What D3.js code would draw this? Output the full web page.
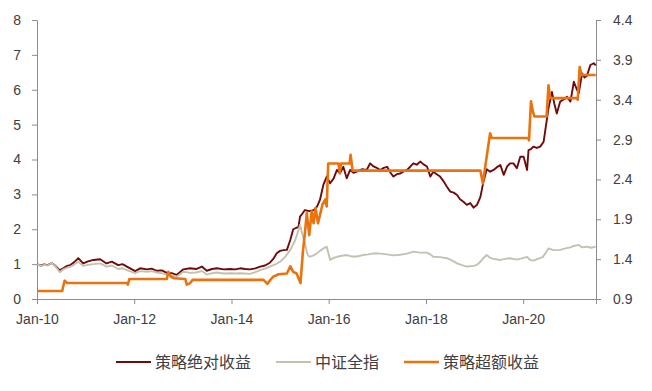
<!DOCTYPE html>
<html>
<head>
<meta charset="utf-8">
<script src="https://cdn.jsdelivr.net/npm/d3@7"></script>
<style>
  body { margin: 0; background: #fff; }
  svg text { font-family: "Liberation Sans", Arial, sans-serif; }
</style>
</head>
<body>
<div id="chart"></div>
<script>
// series names (legend order)
var seriesNames = ["策略绝对收益", "中证全指", "策略超额收益"];

// 策略绝对收益 (left axis), time in decimal years
var absT = [2010.00, 2010.08, 2010.15, 2010.22, 2010.30, 2010.37, 2010.47, 2010.54, 2010.62, 2010.68, 2010.76, 2010.85, 2010.95,
  2011.05, 2011.16, 2011.30, 2011.43, 2011.54, 2011.67, 2011.76, 2011.85, 2012.02, 2012.12, 2012.26, 2012.36, 2012.46, 2012.57,
  2012.67, 2012.77, 2012.87, 2013.01, 2013.15, 2013.27, 2013.39, 2013.49, 2013.60, 2013.70, 2013.84, 2013.97, 2014.08, 2014.18,
  2014.28, 2014.38, 2014.49, 2014.59, 2014.69, 2014.79, 2014.86, 2014.93, 2015.00, 2015.07, 2015.14, 2015.21, 2015.27, 2015.32,
  2015.38, 2015.41, 2015.46, 2015.51, 2015.60, 2015.69, 2015.76, 2015.82, 2015.89, 2015.96, 2016.03, 2016.10, 2016.17, 2016.23,
  2016.30, 2016.37, 2016.44, 2016.51, 2016.58, 2016.68, 2016.78, 2016.85, 2016.92, 2017.00, 2017.06, 2017.13, 2017.20, 2017.27,
  2017.33, 2017.40, 2017.47, 2017.54, 2017.61, 2017.68, 2017.74, 2017.81, 2017.88, 2017.95, 2018.02, 2018.09, 2018.15, 2018.22,
  2018.29, 2018.36, 2018.43, 2018.50, 2018.57, 2018.64, 2018.70, 2018.77, 2018.84, 2018.91, 2018.98, 2019.05, 2019.12, 2019.18,
  2019.25, 2019.32, 2019.39, 2019.46, 2019.53, 2019.60, 2019.67, 2019.73, 2019.80, 2019.87, 2019.94, 2020.01, 2020.08, 2020.11,
  2020.16, 2020.21, 2020.28, 2020.35, 2020.42, 2020.45, 2020.52, 2020.59, 2020.64, 2020.69, 2020.76, 2020.83, 2020.90, 2020.97,
  2021.04, 2021.09, 2021.14, 2021.21, 2021.26, 2021.31, 2021.38, 2021.45, 2021.49];
var absV = [1.00, 0.96, 0.99, 0.97, 1.03, 0.96, 0.82, 0.88, 0.95, 0.97, 1.05, 1.17, 1.02,
  1.08, 1.12, 1.14, 1.02, 1.07, 0.97, 1.00, 0.93, 0.80, 0.88, 0.85, 0.87, 0.81, 0.82,
  0.75, 0.74, 0.69, 0.85, 0.88, 0.86, 0.93, 0.81, 0.86, 0.88, 0.85, 0.86, 0.85, 0.88,
  0.86, 0.85, 0.88, 0.93, 0.96, 1.04, 1.15, 1.31, 1.38, 1.40, 1.41, 1.69, 2.00, 2.03,
  2.07, 2.36, 2.45, 2.55, 2.52, 2.55, 2.65, 2.84, 3.27, 3.51, 3.32, 3.45, 3.70, 3.60,
  3.79, 3.46, 3.70, 3.62, 3.65, 3.72, 3.70, 3.89, 3.80, 3.75, 3.70, 3.76, 3.79, 3.62,
  3.51, 3.58, 3.60, 3.66, 3.70, 3.80, 3.89, 3.85, 3.94, 3.86, 3.80, 3.51, 3.65, 3.58,
  3.51, 3.38, 3.22, 3.08, 3.05, 2.98, 2.86, 2.79, 2.70, 2.75, 2.62, 2.70, 2.93, 3.35,
  3.72, 3.65, 3.70, 3.78, 3.84, 3.56, 3.80, 3.89, 3.89, 3.75, 4.08, 4.08, 3.70, 4.27,
  4.30, 4.37, 4.33, 4.37, 4.51, 4.80, 5.47, 5.94, 5.60, 5.32, 5.66, 5.72, 5.80, 5.66,
  6.23, 6.05, 5.90, 6.47, 6.35, 6.40, 6.71, 6.76, 6.70];

// 中证全指 (left axis)
var idxT = [2010.00, 2010.08, 2010.15, 2010.22, 2010.30, 2010.37, 2010.47, 2010.54, 2010.62, 2010.68, 2010.76, 2010.85, 2010.95,
  2011.05, 2011.16, 2011.30, 2011.43, 2011.54, 2011.67, 2011.76, 2011.85, 2012.02, 2012.12, 2012.26, 2012.36, 2012.46, 2012.57,
  2012.67, 2012.77, 2012.87, 2013.01, 2013.15, 2013.27, 2013.39, 2013.49, 2013.60, 2013.70, 2013.84, 2013.97, 2014.08, 2014.18,
  2014.28, 2014.38, 2014.49, 2014.59, 2014.69, 2014.79, 2014.90, 2015.00, 2015.10, 2015.21, 2015.30, 2015.38, 2015.41, 2015.46,
  2015.51, 2015.56, 2015.60, 2015.69, 2015.76, 2015.82, 2015.89, 2015.96, 2016.03, 2016.10, 2016.17, 2016.27, 2016.37, 2016.47,
  2016.58, 2016.70, 2016.81, 2016.92, 2017.06, 2017.20, 2017.33, 2017.47, 2017.61, 2017.74, 2017.88, 2018.02, 2018.09, 2018.15,
  2018.29, 2018.43, 2018.54, 2018.64, 2018.74, 2018.84, 2018.98, 2019.05, 2019.12, 2019.18, 2019.25, 2019.32, 2019.39, 2019.53,
  2019.63, 2019.73, 2019.87, 2020.01, 2020.08, 2020.14, 2020.21, 2020.30, 2020.40, 2020.45, 2020.52, 2020.62, 2020.76, 2020.87,
  2020.97, 2021.04, 2021.14, 2021.21, 2021.30, 2021.40, 2021.49];
var idxV = [1.00, 0.95, 0.98, 0.96, 1.03, 0.95, 0.77, 0.85, 0.90, 0.92, 0.98, 1.07, 0.95,
  0.98, 1.00, 1.02, 0.93, 0.96, 0.86, 0.88, 0.83, 0.74, 0.80, 0.78, 0.80, 0.76, 0.74,
  0.69, 0.68, 0.64, 0.78, 0.75, 0.76, 0.80, 0.70, 0.74, 0.76, 0.73, 0.74, 0.73, 0.74,
  0.73, 0.72, 0.77, 0.83, 0.87, 0.93, 0.99, 1.07, 1.20, 1.41, 1.65, 1.98, 2.12, 1.85,
  1.60, 1.30, 1.21, 1.25, 1.31, 1.38, 1.45, 1.50, 1.12, 1.18, 1.21, 1.24, 1.26, 1.22,
  1.22, 1.26, 1.28, 1.31, 1.30, 1.28, 1.25, 1.27, 1.30, 1.36, 1.33, 1.33, 1.28, 1.21,
  1.20, 1.17, 1.10, 1.02, 0.97, 0.93, 0.95, 0.98, 1.07, 1.17, 1.26, 1.18, 1.15, 1.12,
  1.15, 1.17, 1.13, 1.18, 1.21, 1.12, 1.10, 1.15, 1.20, 1.30, 1.45, 1.40, 1.41, 1.45,
  1.48, 1.52, 1.55, 1.48, 1.50, 1.47, 1.50];

// 策略超额收益 (right axis)
var excT = [2010.00, 2010.52, 2010.54, 2010.57, 2010.62, 2011.85, 2011.87, 2011.90, 2012.67, 2012.70, 2012.75, 2012.82, 2013.05,
  2013.08, 2013.15, 2013.20, 2014.66, 2014.74, 2014.80, 2014.86, 2014.97, 2015.14, 2015.21, 2015.27, 2015.34, 2015.42, 2015.47,
  2015.51, 2015.55, 2015.60, 2015.65, 2015.69, 2015.73, 2015.78, 2015.82, 2015.87, 2015.93, 2015.96, 2015.99, 2016.20, 2016.23,
  2016.25, 2016.43, 2016.45, 2016.49, 2019.12, 2019.17, 2019.25, 2019.32, 2019.35, 2020.10, 2020.12, 2020.16, 2020.20, 2020.23,
  2020.48, 2020.52, 2020.55, 2020.58, 2021.10, 2021.12, 2021.16, 2021.20, 2021.49];
var excV = [1.00, 1.00, 1.06, 1.13, 1.10, 1.10, 1.08, 1.15, 1.15, 1.24, 1.18, 1.16, 1.15,
  1.08, 1.10, 1.14, 1.14, 1.09, 1.14, 1.18, 1.21, 1.22, 1.31, 1.24, 1.22, 1.10, 1.50,
  1.72, 1.98, 1.70, 2.00, 1.85, 2.04, 1.85, 1.95, 2.08, 2.15, 2.06, 2.60, 2.60, 2.48,
  2.60, 2.60, 2.71, 2.51, 2.51, 2.35, 2.69, 2.98, 2.92, 2.92, 2.89, 3.38, 3.25, 3.19,
  3.19, 3.58, 3.44, 3.42, 3.42, 3.40, 3.81, 3.71, 3.71];

var leftTicks = [0, 1, 2, 3, 4, 5, 6, 7, 8];
var rightTicks = [0.9, 1.4, 1.9, 2.4, 2.9, 3.4, 3.9, 4.4];
var colors = ["#6E0B0B", "#C4C1AF", "#E8730F"];

var W = 652, H = 391;
var m = {left: 37, right: 56, top: 20, bottom: 92};

function toDate(t) {
  var y = Math.floor(t);
  var a = new Date(y, 0, 1), b = new Date(y + 1, 0, 1);
  return new Date(+a + (t - y) * (b - a));
}
function pairs(T, V) { return T.map(function(t, i) { return {d: toDate(t), v: V[i]}; }); }

var svg = d3.select("#chart").append("svg").attr("width", W).attr("height", H);

var x = d3.scaleTime().domain([new Date(2010, 0, 1), new Date(2021, 6, 1)]).range([m.left, W - m.right]);
var yL = d3.scaleLinear().domain([0, 8]).range([H - m.bottom, m.top]);
var yR = d3.scaleLinear().domain([0.9, 4.4]).range([H - m.bottom, m.top]);

var axisColor = "#8C8C8C", textColor = "#404040";

// axes
var gx = svg.append("g").attr("transform", "translate(0," + (H - m.bottom) + ")")
  .call(d3.axisBottom(x).ticks(d3.timeYear.every(2)).tickFormat(d3.timeFormat("%b-%y")).tickSizeOuter(0).tickSize(5).tickPadding(10));
var gl = svg.append("g").attr("transform", "translate(" + m.left + ",0)")
  .call(d3.axisLeft(yL).tickValues(leftTicks).tickSize(5).tickSizeOuter(0).tickPadding(11).tickFormat(d3.format("d")));
var gr = svg.append("g").attr("transform", "translate(" + (W - m.right) + ",0)")
  .call(d3.axisRight(yR).tickValues(rightTicks).tickSize(5).tickSizeOuter(0).tickPadding(12).tickFormat(d3.format(".1f")));

[gx, gl, gr].forEach(function(g) {
  g.selectAll("path, line").attr("stroke", axisColor);
  g.selectAll("text").attr("fill", textColor).style("font-size", "14px");
});

// lines
var lineL = d3.line().x(function(d) { return x(d.d); }).y(function(d) { return yL(d.v); });
var lineR = d3.line().x(function(d) { return x(d.d); }).y(function(d) { return yR(d.v); });

svg.append("path").datum(pairs(absT, absV)).attr("d", lineL)
  .attr("fill", "none").attr("stroke", colors[0]).attr("stroke-width", 1.9).attr("stroke-linejoin", "round");
svg.append("path").datum(pairs(idxT, idxV)).attr("d", lineL)
  .attr("fill", "none").attr("stroke", colors[1]).attr("stroke-width", 1.9).attr("stroke-linejoin", "round");
svg.append("path").datum(pairs(excT, excV)).attr("d", lineR)
  .attr("fill", "none").attr("stroke", colors[2]).attr("stroke-width", 2.6).attr("stroke-linejoin", "round");

// legend
var legX = [116, 276, 404];
var leg = svg.append("g").selectAll("g").data(seriesNames).enter().append("g")
  .attr("transform", function(d, i) { return "translate(" + legX[i] + "," + 362 + ")"; });
leg.append("line").attr("x1", 0).attr("x2", 35).attr("y1", 0).attr("y2", 0)
  .attr("stroke", function(d, i) { return colors[i]; }).attr("stroke-width", function(d, i) { return i == 2 ? 2.5 : 2; });
leg.append("text").attr("x", 39).attr("dy", "0.35em")
  .style("font-family", "'Noto Sans CJK SC', sans-serif").style("font-size", "16px")
  .attr("fill", textColor).text(function(d) { return d; });
</script>
</body>
</html>
